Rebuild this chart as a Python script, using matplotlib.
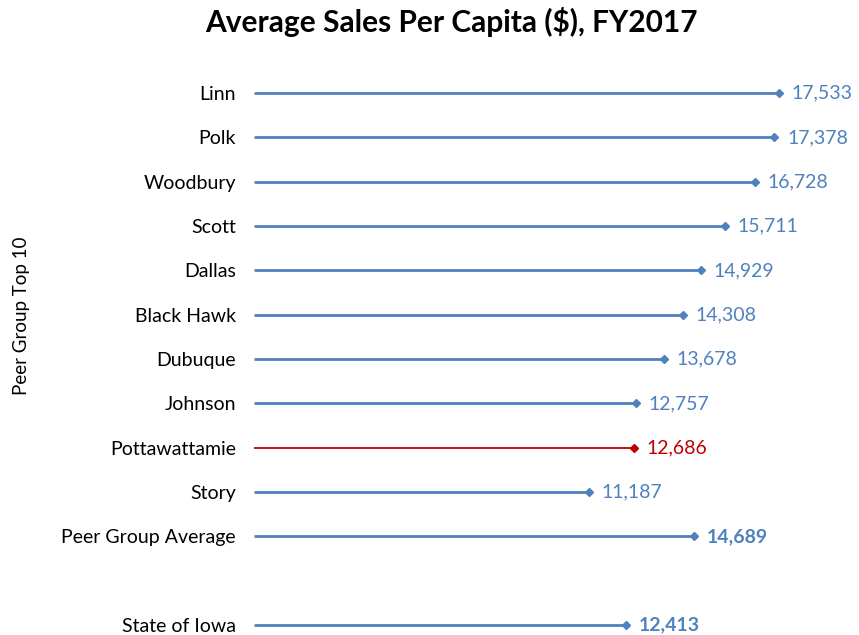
import matplotlib
matplotlib.use("Agg")
import matplotlib.pyplot as plt

categories = ["Linn", "Polk", "Woodbury", "Scott", "Dallas", "Black Hawk", "Dubuque",
              "Johnson", "Pottawattamie", "Story", "Peer Group Average", "", "State of Iowa"]
values = [17533, 17378, 16728, 15711, 14929, 14308, 13678, 12757, 12686, 11187, 14689, None, 12413]
highlight = "Pottawattamie"
bold_rows = ["Peer Group Average", "State of Iowa"]

BLUE = "#4F81BD"
RED = "#C00000"
FONT = "Lato"

W, H = 859, 635
fig = plt.figure(figsize=(W / 100, H / 100), dpi=100)
# axes: x from pixel 254 to 853, y from pixel 71 to 635
ax = fig.add_axes([254 / W, 0, (853 - 254) / W, (635 - 71) / H])
ax.set_xlim(0, 20000)
ax.set_ylim(12.226, -0.5)

for i, (c, v) in enumerate(zip(categories, values)):
    if v is None:
        continue
    col = RED if c == highlight else BLUE
    lw = 1.3 if c == highlight else 2.0
    ax.plot([0, v], [i, i], color=col, lw=lw, solid_capstyle="butt", zorder=2)
    ax.plot([v], [i], marker="D", ms=4, color=col, zorder=3)
    ax.text(v + 420, i, f"{v:,}", color=col, fontsize=14, va="center", ha="left",
            family=FONT, fontweight="bold" if c in bold_rows else "normal")

ax.set_yticks(range(len(categories)))
ax.set_yticklabels(categories, fontsize=14, family=FONT)
ax.tick_params(axis="y", length=0, pad=13)
ax.set_xticks([])
for s in ax.spines.values():
    s.set_visible(False)

fig.text(451 / W, 1 - 22 / H, "Average Sales Per Capita ($), FY2017", ha="center", va="center",
         fontsize=21.5, fontweight="bold", family=FONT)
fig.text(22 / W, 1 - 316 / H, "Peer Group Top 10", rotation=90, ha="center", va="center",
         fontsize=13.5, family=FONT)

fig.savefig("out.png", dpi=100)
